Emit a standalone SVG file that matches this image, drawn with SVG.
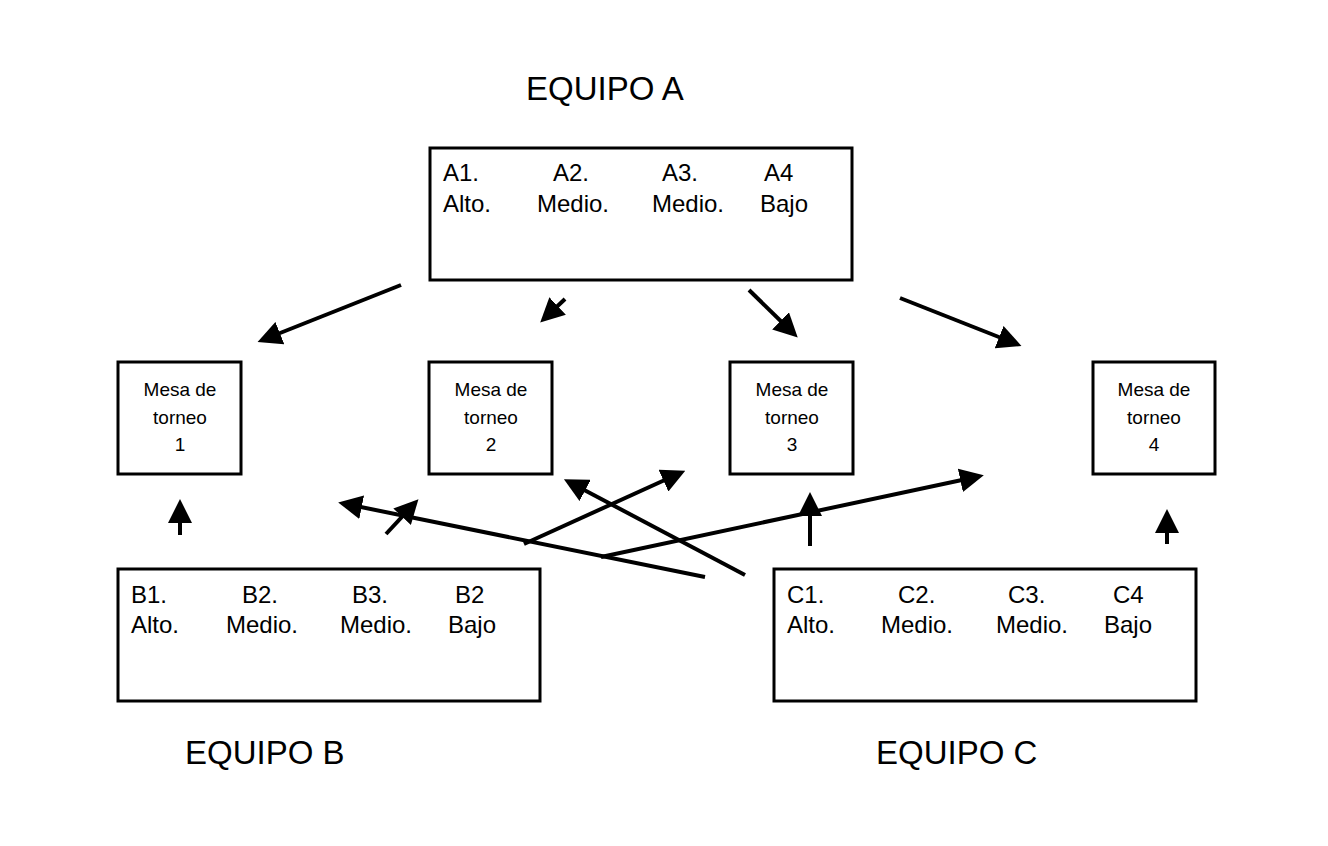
<svg xmlns="http://www.w3.org/2000/svg" width="1328" height="846" viewBox="0 0 1328 846">
<style>
text{font-family:"Helvetica","Liberation Sans",Arial,sans-serif;fill:#000}
.box{fill:#fff;stroke:#000;stroke-width:3}
.t{font-size:24px}
.s{font-size:19px;text-anchor:middle}
.h{font-size:33px}
.c line{stroke:#000;stroke-width:4;marker-end:url(#ah)}
</style>
<defs><marker id="ah" markerWidth="6" markerHeight="6" refX="4" refY="3" orient="auto" markerUnits="strokeWidth"><path d="M0,0 L6,3 L0,6 z" fill="#000"/></marker></defs>
<rect width="1328" height="846" fill="#fff"/>
<text class="h" x="526" y="100">EQUIPO A</text>
<text class="h" x="185" y="764">EQUIPO B</text>
<text class="h" x="876" y="764">EQUIPO C</text>
<g id="teamA"><rect class="box" x="430" y="148" width="422" height="132"/>
<text class="t" x="443" y="181">A1.</text><text class="t" x="553" y="181">A2.</text><text class="t" x="662" y="181">A3.</text><text class="t" x="764" y="181">A4</text>
<text class="t" x="443" y="212">Alto.</text><text class="t" x="537" y="212">Medio.</text><text class="t" x="652" y="212">Medio.</text><text class="t" x="760" y="212">Bajo</text></g>
<g id="teamB"><rect class="box" x="118" y="569" width="422" height="132"/>
<text class="t" x="131" y="603">B1.</text><text class="t" x="242" y="603">B2.</text><text class="t" x="352" y="603">B3.</text><text class="t" x="455" y="603">B2</text>
<text class="t" x="131" y="633">Alto.</text><text class="t" x="226" y="633">Medio.</text><text class="t" x="340" y="633">Medio.</text><text class="t" x="448" y="633">Bajo</text></g>
<g id="teamC"><rect class="box" x="774" y="569" width="422" height="132"/>
<text class="t" x="787" y="603">C1.</text><text class="t" x="898" y="603">C2.</text><text class="t" x="1008" y="603">C3.</text><text class="t" x="1113" y="603">C4</text>
<text class="t" x="787" y="633">Alto.</text><text class="t" x="881" y="633">Medio.</text><text class="t" x="996" y="633">Medio.</text><text class="t" x="1104" y="633">Bajo</text></g>
<g id="mesa1"><rect class="box" x="118" y="362" width="123" height="112"/><text class="s" x="180" y="396">Mesa de</text><text class="s" x="180" y="424">torneo</text><text class="s" x="180" y="451">1</text></g>
<g id="mesa2"><rect class="box" x="429" y="362" width="123" height="112"/><text class="s" x="491" y="396">Mesa de</text><text class="s" x="491" y="424">torneo</text><text class="s" x="491" y="451">2</text></g>
<g id="mesa3"><rect class="box" x="730" y="362" width="123" height="112"/><text class="s" x="792" y="396">Mesa de</text><text class="s" x="792" y="424">torneo</text><text class="s" x="792" y="451">3</text></g>
<g id="mesa4"><rect class="box" x="1093" y="362" width="122" height="112"/><text class="s" x="1154" y="396">Mesa de</text><text class="s" x="1154" y="424">torneo</text><text class="s" x="1154" y="451">4</text></g>
<g class="c">
<line x1="401" y1="285" x2="265" y2="339"/>
<line x1="565" y1="299" x2="546" y2="317"/>
<line x1="749" y1="290" x2="792" y2="332"/>
<line x1="900" y1="298" x2="1014" y2="343"/>
<line x1="180" y1="535" x2="180" y2="507"/>
<line x1="1167" y1="544" x2="1167" y2="517"/>
<line x1="705" y1="577" x2="346" y2="504"/>
<line x1="386" y1="534" x2="413" y2="505"/>
<line x1="524" y1="544" x2="678" y2="474"/>
<line x1="745" y1="575" x2="571" y2="483"/>
<line x1="601" y1="557" x2="976" y2="477"/>
<line x1="810" y1="546" x2="810" y2="500"/>
</g>
</svg>
